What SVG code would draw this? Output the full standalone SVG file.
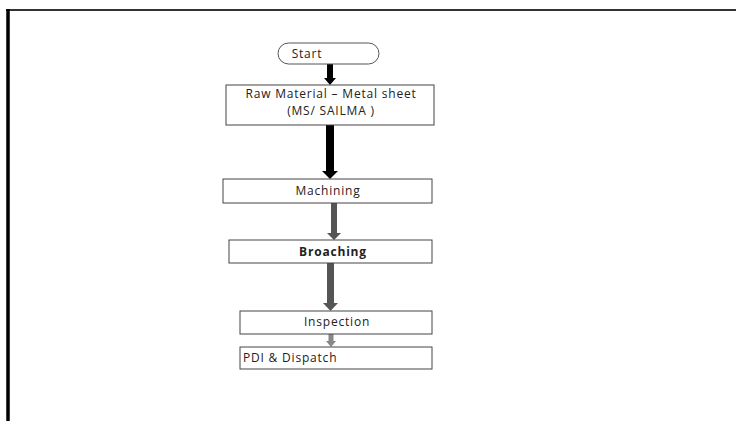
<svg xmlns="http://www.w3.org/2000/svg" width="736" height="421" viewBox="0 0 736 421">
<defs>
<style>
.box{fill:#fff;stroke:#444;stroke-width:1}
.t{font-family:"Open Sans","Liberation Sans",sans-serif;font-size:12px;letter-spacing:0.8px;fill:#222;text-anchor:middle}
.blk{fill:#000}
.gry{fill:#555}
.lgt{fill:#888}
</style>
</defs>
<rect width="736" height="421" fill="#fff"/>
<g id="frame">
<line x1="6" y1="10" x2="736" y2="10" stroke="#333" stroke-width="2"/>
<line x1="8" y1="9" x2="8" y2="421" stroke="#000" stroke-width="3.5"/>
</g>
<g id="connectors">
<path class="blk" d="M327 63 H333 V78 H336 L330 85 L324 78 H327 Z"/>
<path class="blk" d="M326 125 H334 V171 H338 L330 179 L322 171 H326 Z"/>
<path class="gry" d="M331 203 H337 V233 H341 L334 240 L327 233 H331 Z"/>
<path class="gry" d="M327 263 H334 V303 H338 L330.5 311 L323 303 H327 Z"/>
<path class="lgt" d="M328.5 334 H333.5 V341 H336 L331 347 L326 341 H328.5 Z"/>
</g>
<g id="start">
<rect x="278" y="43" width="101" height="21" rx="10.5" fill="#fff" stroke="#555" stroke-width="1"/>
<text class="t" x="307" y="57.5">Start</text>
</g>
<g id="raw">
<rect class="box" x="226" y="85" width="208" height="40"/>
<text class="t" x="331" y="98">Raw Material – Metal sheet</text>
<text class="t" x="331" y="114.5">(MS/ SAILMA )</text>
</g>
<g id="machining">
<rect class="box" x="223" y="179" width="209" height="24"/>
<text class="t" x="328" y="195">Machining</text>
</g>
<g id="broaching">
<rect class="box" x="229" y="240" width="203" height="23"/>
<text class="t" x="333" y="256" font-weight="bold">Broaching</text>
</g>
<g id="inspection">
<rect class="box" x="240" y="311" width="192" height="23"/>
<text class="t" x="337" y="326">Inspection</text>
</g>
<g id="dispatch">
<rect class="box" x="240" y="347" width="192" height="22"/>
<text class="t" x="243" y="362" style="text-anchor:start">PDI &amp; Dispatch</text>
</g>
</svg>
